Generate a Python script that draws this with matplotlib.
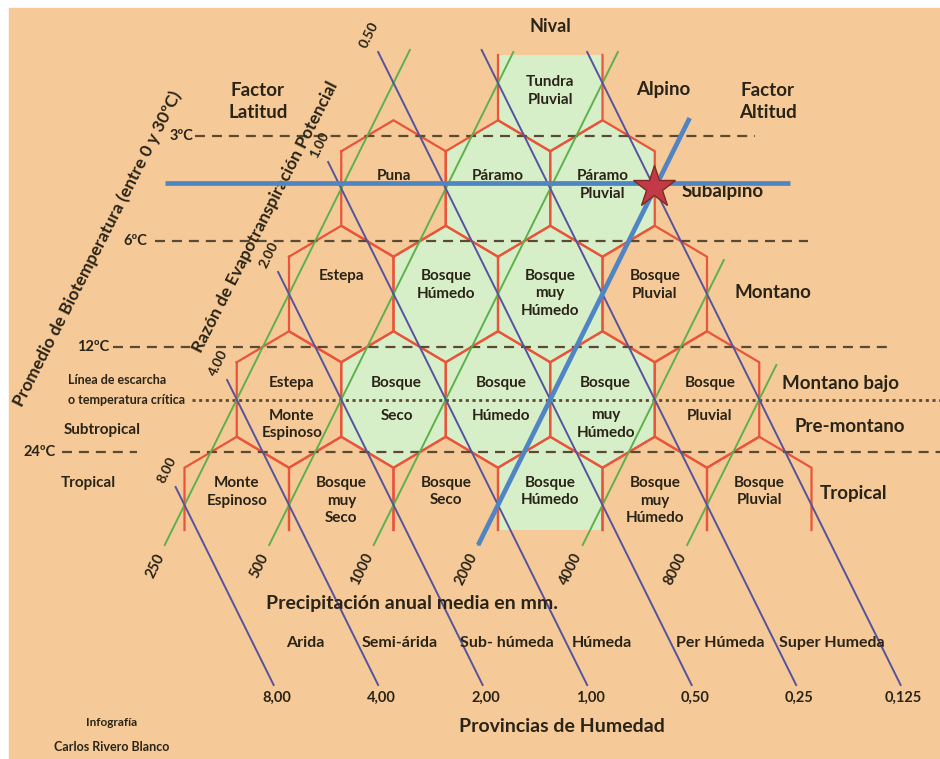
import matplotlib.pyplot as plt
from matplotlib.patches import Polygon, Rectangle

plt.rcParams['font.family'] = ['Lato', 'DejaVu Sans']
plt.rcParams['lines.scale_dashes'] = False

# ---- chart content ----
precip_mm = ['250', '500', '1000', '2000', '4000', '8000']
pet_left = ['8.00', '4.00', '2.00', '1.00', '0.50']
pet_bottom = ['8,00', '4,00', '2,00', '1,00', '0,50', '0,25', '0,125']
humidity = ['Arida', 'Semi-árida', 'Sub- húmeda', 'Húmeda', 'Per Húmeda', 'Super Humeda']
temps = ['3ºC', '6ºC', '12ºC', '24ºC']
belts = ['Alpino', 'Subalpino', 'Montano', 'Montano bajo', 'Pre-montano', 'Tropical']

zones_r0 = ['Tundra\nPluvial']
zones_r1 = ['Puna', 'Páramo', 'Páramo\nPluvial']
zones_r2 = ['Estepa', 'Bosque\nHúmedo', 'Bosque\nmuy\nHúmedo', 'Bosque\nPluvial']
zones_r3_up = ['Estepa', 'Bosque', 'Bosque', 'Bosque', 'Bosque']
zones_r3_low = ['Monte\nEspinoso', 'Seco', 'Húmedo', 'muy\nHúmedo', 'Pluvial']
zones_r4 = ['Monte\nEspinoso', 'Bosque\nmuy\nSeco', 'Bosque\nSeco', 'Bosque\nHúmedo',
            'Bosque\nmuy\nHúmedo', 'Bosque\nPluvial']
humid_r0 = [1]
humid_r1 = [0, 1, 1]
humid_r2 = [0, 1, 1, 0]
humid_r3 = [0, 1, 1, 1, 0]
humid_r4 = [0, 0, 0, 1, 0, 0]

# ---- colours ----
BG = '#F5CA98'
GREEN_FILL = '#D6EFC8'
RED = '#E9543A'
GREEN = '#5DB14A'
BLUE = '#55529F'
THICK = '#5085C4'
DASH = '#5A4A34'
TXT = '#2A2418'

# ---- lattice geometry (pixels) ----
X0, Y0 = 498, 83
DX, DY = 104.5, 105.5
HALF = DX / 2
SLOPE = HALF / DY
CAP = 31
HV = (DY - CAP) / 2

fig = plt.figure(figsize=(9.4, 7.59), dpi=100)
ax = fig.add_axes([0, 0, 1, 1])
ax.set_xlim(0, 940)
ax.set_ylim(759, 0)
ax.axis('off')
ax.add_patch(Rectangle((9, 8), 931, 751, color=BG, zorder=0))


def t(x, y, s, size=11, **kw):
    kw.setdefault('ha', 'center')
    kw.setdefault('va', 'center')
    kw.setdefault('color', TXT)
    kw.setdefault('fontweight', 'bold')
    return ax.text(x, y, s, fontsize=size, zorder=kw.pop('zorder', 6), **kw)


def lines_text(x, y, s, size=11, step=17.5):
    for i, part in enumerate(s.split('\n')):
        t(x, y + i * step, part, size)


# ---- hexagons ----
start = {0: 1, 1: 0, 2: 0, 3: 0, 4: 0}
label_dy = {0: -1, 1: -12, 2: -18, 3: -17, 4: -22}
TOP_CUT, BOT_CUT = 55, 530


def hex_center(r, k):
    return 445.75 - HALF * r + DX * (k + start[r]), Y0 + DY * r


def hex_outline(cx, cy, r):
    if r == 0:
        return [(cx - HALF, TOP_CUT), (cx - HALF, cy + HV), (cx, cy + HV + CAP),
                (cx + HALF, cy + HV), (cx + HALF, TOP_CUT)]
    if r == 4:
        return [(cx - HALF, BOT_CUT), (cx - HALF, cy - HV), (cx, cy - HV - CAP),
                (cx + HALF, cy - HV), (cx + HALF, BOT_CUT)]
    return [(cx - HALF, cy - HV), (cx, cy - HV - CAP), (cx + HALF, cy - HV),
            (cx + HALF, cy + HV), (cx, cy + HV + CAP), (cx - HALF, cy + HV),
            (cx - HALF, cy - HV)]


all_rows = {0: (zones_r0, humid_r0), 1: (zones_r1, humid_r1), 2: (zones_r2, humid_r2),
            3: (zones_r3_up, humid_r3), 4: (zones_r4, humid_r4)}
for r, (names, wet) in all_rows.items():
    for k, name in enumerate(names):
        cx, cy = hex_center(r, k)
        pts = hex_outline(cx, cy, r)
        if wet[k]:
            ax.add_patch(Polygon(pts, closed=True, facecolor=GREEN_FILL, edgecolor='none', zorder=1))
        xs, ys = zip(*pts)
        ax.plot(xs, ys, color=RED, lw=1.6, zorder=2, solid_joinstyle='miter')
        if r == 3:
            t(cx + 3, cy + label_dy[3], name)
            lines_text(cx + 3, cy + 16, zones_r3_low[k])
        else:
            lines_text(cx, cy + label_dy[r], name)

# ---- temperature dashed lines ----
dash_spans = [[(195, 755)], [(155, 808)], [(113, 190), (216, 892)], [(62, 137), (190, 940)]]
temp_x = [182, 135, 93, 40]
for i, lab in enumerate(temps):
    y = Y0 + DY * (i + 0.5)
    for a, b in dash_spans[i]:
        ax.plot([a, b], [y, y], color=DASH, lw=1.6, ls=(0, (7.2, 5)), zorder=3)
    t(temp_x[i], y, lab, 10.5)
y_frost = Y0 + DY * 3
ax.plot([192, 940], [y_frost, y_frost], color=DASH, lw=2, ls=(0, (2.2, 2.6)), zorder=3)
t(68, y_frost - 19, 'Línea de escarcha', 9, ha='left')
t(68, y_frost, 'o temperatura crítica', 9, ha='left')
t(102, 430, 'Subtropical', 11)
t(88, 483, 'Tropical', 11)

# ---- precipitation (green) and PET (blue) lines ----
green_top = [50, 52, 52, 150, 260, 365]
G_BOT = 545
for i, lab in enumerate(precip_mm):
    xg = 393.5 + DX * i
    xa = xg - (G_BOT - Y0) * SLOPE
    xb = xg - (green_top[i] - Y0) * SLOPE
    ax.plot([xa, xb], [G_BOT, green_top[i]], color=GREEN, lw=1.4, zorder=4)
    ax.text(xa - 4, G_BOT + 9, lab, fontsize=10.5, rotation=63.7, rotation_mode='anchor',
            ha='right', va='center', color=TXT, fontweight='bold', zorder=6)

blue_top = [487, 380, 272, 162, 52, 50, 52]
B_BOT = 685
for i, lab in enumerate(pet_bottom):
    xb0 = -24.5 + DX * i
    xa = xb0 + (blue_top[i] - Y0) * SLOPE
    xe = xb0 + (B_BOT - Y0) * SLOPE
    ax.plot([xa, xe], [blue_top[i], B_BOT], color=BLUE, lw=1.4, zorder=4)
    t(xe + 3, 698, lab, 10.5)
    if i < len(pet_left):
        t(xa - 9, blue_top[i] - 17, pet_left[i], 10, rotation=63.7)

# ---- axis titles ----
t(97, 249, 'Promedio de Biotemperatura (entre 0 y 30ºC)', 12.5, rotation=63)
t(265, 217, 'Razón de Evapotranspiración Potencial', 12.5, rotation=63)
t(412, 603, 'Precipitación anual media en mm.', 14)
t(562, 727, 'Provincias de Humedad', 14)
hum_x = [305, 400, 507, 602, 720, 832]
for x, lab in zip(hum_x, humidity):
    t(x, 643, lab, 11.5)

# ---- belt labels ----
t(550, 27, 'Nival', 13)
t(258, 90, 'Factor', 13.5)
t(258, 113, 'Latitud', 13.5)
t(768, 90, 'Factor', 13.5)
t(768, 113, 'Altitud', 13.5)
belt_xy = [(663, 90), (723, 192), (773, 292), (841, 383), (850, 427), (853, 493)]
for (x, y), lab in zip(belt_xy, belts):
    t(x, y, lab, 13.5)

t(112, 722, 'Infografía', 8.5)
t(112, 747, 'Carlos Rivero Blanco', 9)

# ---- altitude / latitude markers ----
ax.plot([165, 790], [183, 183], color=THICK, lw=3.4, solid_capstyle='butt', zorder=7)
xg2000 = 393.5 + DX * 3
ax.plot([xg2000 - (545 - Y0) * SLOPE, xg2000 - (118 - Y0) * SLOPE], [545, 118],
        color=THICK, lw=3.4, solid_capstyle='butt', zorder=7)
ax.plot([654], [187], marker='*', ms=32, mfc='#C23A48', mec='#7E2A22', mew=1, zorder=8)

fig.savefig('out.png', dpi=100, facecolor='white')
